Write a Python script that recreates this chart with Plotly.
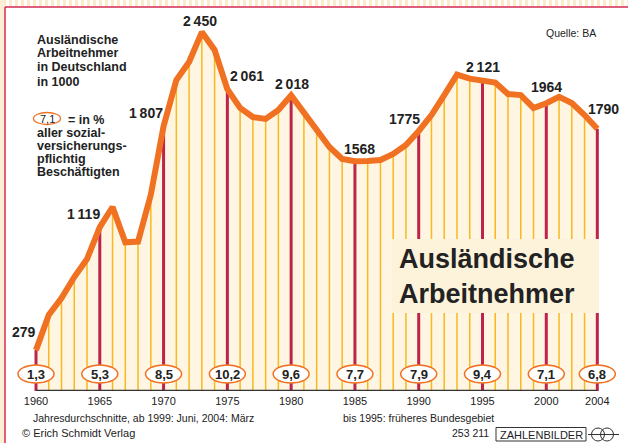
import plotly.graph_objects as go

# ---------------- data ----------------
years = list(range(1960, 2005))
workers = [279, 519, 635, 778, 901, 1119, 1256, 1015, 1020, 1340,
           1807, 2123, 2246, 2450, 2328, 2061, 1932, 1870, 1857, 1918,
           2018, 1904, 1780, 1666, 1584, 1568, 1570, 1577, 1618, 1679,
           1775, 1884, 2020, 2160, 2132, 2121, 2105, 2027, 2020, 1932,
           1964, 2008, 1966, 1884, 1790]

share_years = [1960, 1965, 1970, 1975, 1980, 1985, 1990, 1995, 2000, 2004]
share_pct = ["1,3", "5,3", "8,5", "10,2", "9,6", "7,7", "7,9", "9,4", "7,1", "6,8"]

label_years = [1960, 1965, 1970, 1973, 1975, 1980, 1985, 1990, 1995, 2000, 2004]
label_texts = ["279", "1\u2009119", "1\u2009807", "2\u2009450", "2\u2009061", "2\u2009018",
               "1568", "1775", "2\u2009121", "1964", "1790"]
# label offsets in pixels (style)
label_dx = [-12, -16, -18, -2, 20, 1, 5, -14, 0, 0, 6]
label_dy = [18, 13, 13, 11, 13, 11, 12, 12, 13, 16, 20]

tick_vals = share_years
tick_text = [str(y) for y in share_years]

# ---------------- style ----------------
W, H = 628, 443
PLOT_BOTTOM = 391
ORANGE = "#F07122"
CRIMSON = "#BE2449"
YELLOW = "#F9B81E"
CREAM = "#FEF6E2"
BOX = "#FDF2DA"
TXT = "#222222"
FRAME = "#D52A55"
SANS = "Liberation Sans, Arial, Helvetica, sans-serif"

px_per_year = 12.757
x_left = 36
x_range = [1960 - x_left / px_per_year, 1960 + (W - x_left) / px_per_year]
y_range = [0, 2669]


def px(x):
    return x / W


def py(y):
    return 1 - y / PLOT_BOTTOM


fig = go.Figure()

# cream area under the curve
fig.add_trace(go.Scatter(x=years, y=workers, mode="lines", fill="tozeroy",
                         fillcolor=CREAM, line=dict(width=0, color=CREAM),
                         hoverinfo="skip", showlegend=False))

# vertical year lines
thin_x, thin_y, thick_x, thick_y = [], [], [], []
for yr, v in zip(years, workers):
    if yr in share_years:
        thick_x += [yr, yr, None]
        thick_y += [0, v, None]
    else:
        thin_x += [yr, yr, None]
        thin_y += [0, v, None]
fig.add_trace(go.Scatter(x=thin_x, y=thin_y, mode="lines",
                         line=dict(color=YELLOW, width=1.5),
                         hoverinfo="skip", showlegend=False))
fig.add_trace(go.Scatter(x=thick_x, y=thick_y, mode="lines",
                         line=dict(color=CRIMSON, width=3),
                         hoverinfo="skip", showlegend=False))

# main line
fig.add_trace(go.Scatter(x=years, y=workers, mode="lines",
                         line=dict(color=ORANGE, width=6),
                         hoverinfo="skip", showlegend=False))

shapes = []
annotations = []

# top decorative strip and frame
shapes.append(dict(type="rect", xref="paper", yref="paper", x0=0, x1=1,
                   y0=py(0), y1=py(6.5), fillcolor="#FCEBCB", line=dict(width=0), layer="below"))
for sx in range(0, W, 6):
    shapes.append(dict(type="rect", xref="paper", yref="paper", x0=px(sx), x1=px(sx + 3),
                       y0=py(0), y1=py(6.5), fillcolor="white", line=dict(width=0), layer="below"))
shapes.append(dict(type="rect", xref="paper", yref="paper", x0=0, x1=px(4.5),
                   y0=py(0), y1=py(H), fillcolor="#FCEFD6", line=dict(width=0), layer="below"))
shapes.append(dict(type="line", xref="paper", yref="paper", x0=px(5), x1=1,
                   y0=py(7), y1=py(7), line=dict(color=FRAME, width=1.5)))
shapes.append(dict(type="line", xref="paper", yref="paper", x0=px(5), x1=px(5),
                   y0=py(7), y1=py(H), line=dict(color=FRAME, width=1.5)))

# title box
shapes.append(dict(type="rect", xref="paper", yref="paper", x0=px(392), x1=px(599),
                   y0=py(239), y1=py(313), fillcolor=BOX, line=dict(width=0), layer="above"))

# x axis line
shapes.append(dict(type="line", xref="x", yref="y", x0=years[0], x1=years[-1],
                   y0=0, y1=0, line=dict(color="#333333", width=2.5), layer="above"))

# share ovals
for yr, t in zip(share_years, share_pct):
    shapes.append(dict(type="circle", xref="x", yref="y", xsizemode="pixel", ysizemode="pixel",
                       xanchor=yr, yanchor=0, x0=-18, x1=18, y0=8, y1=26,
                       fillcolor="white", line=dict(color=ORANGE, width=1.5), layer="above"))
    annotations.append(dict(x=yr, y=0, xref="x", yref="y", yshift=17, text="<b>%s</b>" % t,
                            showarrow=False, font=dict(family=SANS, size=13, color=TXT),
                            xanchor="center", yanchor="middle"))

# value labels
for yr, t, dx, dy in zip(label_years, label_texts, label_dx, label_dy):
    v = workers[years.index(yr)]
    annotations.append(dict(x=yr, y=v, xref="x", yref="y", xshift=dx, yshift=dy,
                            text="<b>%s</b>" % t, showarrow=False,
                            font=dict(family=SANS, size=14, color=TXT),
                            xanchor="center", yanchor="middle"))

# left text block
left_lines = [("Ausländische", 40.5), ("Arbeitnehmer", 53.5), ("in Deutschland", 66.5), ("in 1000", 82)]
for t, yy in left_lines:
    annotations.append(dict(x=px(35), y=py(yy), xref="paper", yref="paper", text="<b>%s</b>" % t,
                            showarrow=False, xanchor="left", yanchor="middle",
                            font=dict(family=SANS, size=12.5, color=TXT)))

# legend oval
shapes.append(dict(type="circle", xref="paper", yref="paper", x0=px(33.5), x1=px(60.5),
                   y0=py(112.5), y1=py(124.5), fillcolor="white",
                   line=dict(color=ORANGE, width=1.3), layer="above"))
annotations.append(dict(x=px(47), y=py(118.5), xref="paper", yref="paper", text="7,1",
                        showarrow=False, xanchor="center", yanchor="middle",
                        font=dict(family=SANS, size=11, color=TXT)))
leg_lines = [("= in %", 66, 120), ("aller sozial-", 35, 133.5), ("versicherungs-", 35, 146.5),
             ("pflichtig", 35, 159), ("Beschäftigten", 35, 171.5)]
for t, xx, yy in leg_lines:
    annotations.append(dict(x=px(xx), y=py(yy), xref="paper", yref="paper", text="<b>%s</b>" % t,
                            showarrow=False, xanchor="left", yanchor="middle",
                            font=dict(family=SANS, size=12.5, color=TXT)))

# source
annotations.append(dict(x=px(598), y=py(32.5), xref="paper", yref="paper", text="Quelle: BA",
                        showarrow=False, xanchor="right", yanchor="middle",
                        font=dict(family=SANS, size=10.5, color=TXT)))

# big title
annotations.append(dict(x=px(397), y=py(276), xref="paper", yref="paper",
                        text="<b>Ausländische<br>Arbeitnehmer</b>", align="left",
                        showarrow=False, xanchor="left", yanchor="middle",
                        font=dict(family=SANS, size=27, color=TXT)))

# footer texts
annotations.append(dict(x=px(31), y=py(417.5), xref="paper", yref="paper",
                        text="Jahresdurchschnitte, ab 1999: Juni, 2004: März",
                        showarrow=False, xanchor="left", yanchor="middle",
                        font=dict(family=SANS, size=10.5, color=TXT)))
annotations.append(dict(x=px(341), y=py(417.5), xref="paper", yref="paper",
                        text="bis 1995: früheres Bundesgebiet",
                        showarrow=False, xanchor="left", yanchor="middle",
                        font=dict(family=SANS, size=10.5, color=TXT)))
annotations.append(dict(x=px(20), y=py(432.5), xref="paper", yref="paper",
                        text="© Erich Schmidt Verlag",
                        showarrow=False, xanchor="left", yanchor="middle",
                        font=dict(family=SANS, size=11, color=TXT)))
annotations.append(dict(x=px(491), y=py(433), xref="paper", yref="paper",
                        text="253 211",
                        showarrow=False, xanchor="right", yanchor="middle",
                        font=dict(family=SANS, size=10.5, color=TXT)))
shapes.append(dict(type="rect", xref="paper", yref="paper", x0=px(496), x1=px(586),
                   y0=py(427.5), y1=py(441), fillcolor="white",
                   line=dict(color="#333333", width=1)))
annotations.append(dict(x=px(541), y=py(434.5), xref="paper", yref="paper",
                        text="ZAHLENBILDER",
                        showarrow=False, xanchor="center", yanchor="middle",
                        font=dict(family=SANS, size=11, color=TXT)))
for cx in (598, 607):
    shapes.append(dict(type="circle", xref="paper", yref="paper", x0=px(cx - 6.5), x1=px(cx + 6.5),
                       y0=py(428), y1=py(441), line=dict(color="#333333", width=1)))
shapes.append(dict(type="line", xref="paper", yref="paper", x0=px(588), x1=px(619),
                   y0=py(434.5), y1=py(434.5), line=dict(color="#333333", width=1)))

fig.update_layout(
    width=W, height=H,
    margin=dict(l=0, r=0, t=0, b=H - PLOT_BOTTOM),
    paper_bgcolor="white", plot_bgcolor="rgba(0,0,0,0)",
    showlegend=False,
    shapes=shapes, annotations=annotations,
    xaxis=dict(range=x_range, showgrid=False, zeroline=False, showline=False,
               tickmode="array", tickvals=tick_vals, ticktext=tick_text,
               ticks="", ticklabelstandoff=2,
               tickfont=dict(family=SANS, size=11, color=TXT), fixedrange=True),
    yaxis=dict(range=y_range, visible=False, fixedrange=True),
)

fig.write_html("out.html", config={"displayModeBar": False},
               post_script="document.body.style.margin='0';document.body.style.overflow='hidden';")
